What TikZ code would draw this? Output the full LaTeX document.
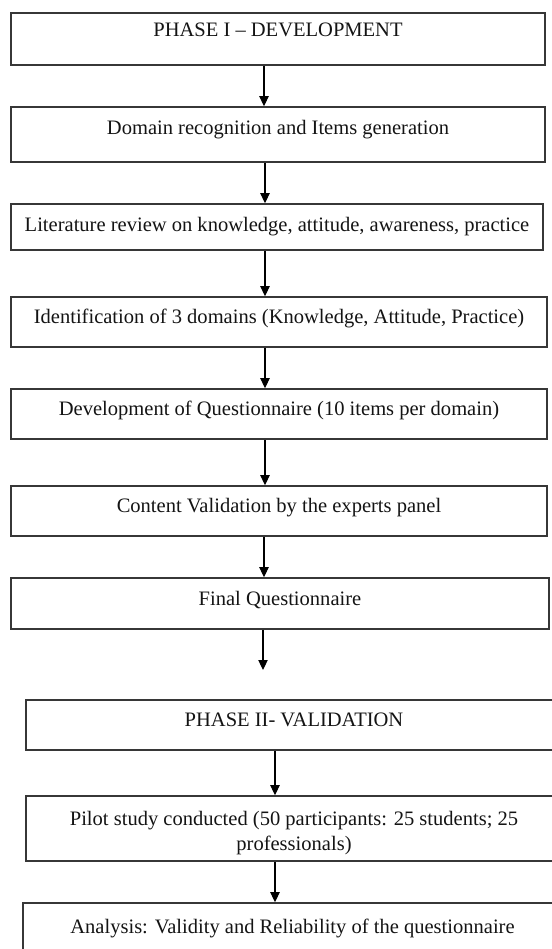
\documentclass[tikz,border=0pt]{standalone}
\usepackage{fontspec}
\setmainfont{Liberation Serif}
\usetikzlibrary{arrows.meta,calc}
\definecolor{boxgray}{RGB}{55,55,55}
\definecolor{txt}{RGB}{20,20,20}
\begin{document}
\begin{tikzpicture}[x=0.75pt,y=-0.75pt,
  box/.style={draw=boxgray, line width=1.15pt, rectangle, inner sep=0pt},
  lbl/.style={font=\fontsize{15.4}{19}\selectfont, text=txt, anchor=base, inner sep=0pt},
  arr/.style={draw=black, line width=0.8pt, -{Triangle[width=7pt,length=7.5pt]}}]
\useasboundingbox (0,0) rectangle (552,949);
\clip (0,0) rectangle (552,949);
\fill[white] (0,0) rectangle (552,949);

% boxes
\node[box, minimum width=400.5pt, minimum height=39pt]    (b1)  at (278,39)    {};
\node[box, minimum width=400.5pt, minimum height=41.25pt] (b2)  at (278,134.5) {};
\node[box, minimum width=399pt,   minimum height=34.5pt]  (b3)  at (277,227)   {};
\node[box, minimum width=402pt,   minimum height=37.5pt]  (b4)  at (279,322)   {};
\node[box, minimum width=402pt,   minimum height=37.5pt]  (b5)  at (279,414)   {};
\node[box, minimum width=402pt,   minimum height=37.5pt]  (b6)  at (279,511)   {};
\node[box, minimum width=403.5pt, minimum height=38.25pt] (b7)  at (280,603.5) {};
\node[box, minimum width=402pt,   minimum height=37.5pt]  (b8)  at (294,725)   {};
\node[box, minimum width=402pt,   minimum height=48.75pt] (b9)  at (294,828.5) {};
\node[box, minimum width=404.25pt,minimum height=57.75pt] (b10) at (292.5,941.5) {};

% texts
\node[lbl] (t1) at (278,37)  {PHASE I – DEVELOPMENT};
\node[lbl] (t2) at (278,134) {Domain recognition and Items generation};
\node[lbl] (t3) at (277,231) {Literature review on knowledge, attitude, awareness, practice};
\node[lbl] (t4) at (279,323) {Identification of 3 domains (Knowledge, Attitude, Practice)};
\node[lbl] (t5) at (279,415) {Development of Questionnaire (10 items per domain)};
\node[lbl] (t6) at (279,512) {Content Validation by the experts panel};
\node[lbl] (t7) at (280,605) {Final Questionnaire};
\node[lbl] (t8) at (294,726) {PHASE II- VALIDATION};
\node[lbl] (t9) at (294,825) {\setlength{\tabcolsep}{0pt}\begin{tabular}[t]{c}Pilot study conducted (50 participants: 25 students; 25\\ professionals)\end{tabular}};
\node[lbl] (t10) at (292.5,933) {Analysis: Validity and Reliability of the questionnaire};

% arrow x positions
\coordinate (a1) at (264,0);
\coordinate (a2) at (265,0);
\coordinate (a6) at (264,0);
\coordinate (e7) at (263,670);
\coordinate (a8) at (275,0);

\draw[arr] (b1.south -| a1) -- (b2.north -| a1);
\draw[arr] (b2.south -| a2) -- (b3.north -| a2);
\draw[arr] (b3.south -| a2) -- (b4.north -| a2);
\draw[arr] (b4.south -| a2) -- (b5.north -| a2);
\draw[arr] (b5.south -| a2) -- (b6.north -| a2);
\draw[arr] (b6.south -| a6) -- (b7.north -| a6);
\draw[arr] (b7.south -| e7) -- (e7);
\draw[arr] (b8.south -| a8) -- (b9.north -| a8);
\draw[arr] (b9.south -| a8) -- (b10.north -| a8);
\end{tikzpicture}
\end{document}
